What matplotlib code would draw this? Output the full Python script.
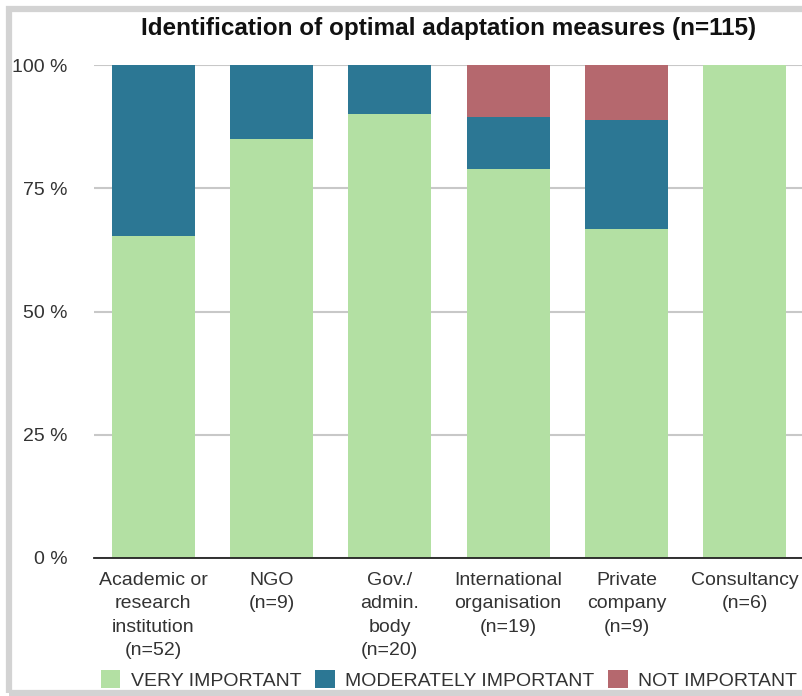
import matplotlib.pyplot as plt
import numpy as np
from matplotlib.patches import Rectangle

plt.rcParams["font.family"] = ["Liberation Sans", "DejaVu Sans"]

categories = [
    "Academic or\nresearch\ninstitution\n(n=52)",
    "NGO\n(n=9)",
    "Gov./\nadmin.\nbody\n(n=20)",
    "International\norganisation\n(n=19)",
    "Private\ncompany\n(n=9)",
    "Consultancy\n(n=6)",
]
very_important = np.array([65.4, 85.0, 90.0, 78.9, 66.7, 100.0])
moderately_important = np.array([34.6, 15.0, 10.0, 10.5, 22.2, 0.0])
not_important = np.array([0.0, 0.0, 0.0, 10.6, 11.1, 0.0])
yticks = [0, 25, 50, 75, 100]

green = "#b3e0a3"
blue = "#2c7794"
red = "#b5686e"

fig = plt.figure(figsize=(8.02, 6.96), dpi=100)
ax = fig.add_axes([94 / 802, 1 - 558 / 696, 710 / 802, 493 / 696])

x = np.arange(len(categories))
w = 0.70
ax.bar(x, very_important, w, color=green, label="VERY IMPORTANT", zorder=2)
ax.bar(x, moderately_important, w, bottom=very_important, color=blue,
       label="MODERATELY IMPORTANT", zorder=2)
ax.bar(x, not_important, w, bottom=very_important + moderately_important,
       color=red, label="NOT IMPORTANT", zorder=2)

ax.set_xlim(-0.5, 5.5)
ax.set_ylim(0, 100)
ax.set_yticks(yticks)
ax.set_yticklabels([f"{v} %" for v in yticks], fontsize=14, color="#333333")
ax.set_xticks(x)
ax.set_xticklabels(categories, fontsize=14, color="#333333", linespacing=1.5)
ax.tick_params(axis="y", length=0, pad=19)
ax.tick_params(axis="x", length=0, pad=10)
ax.grid(axis="y", color="#c8c8c8", linewidth=1.5, zorder=0)
for s in ["top", "right", "left"]:
    ax.spines[s].set_visible(False)
ax.spines["bottom"].set_color("#222222")
ax.spines["bottom"].set_linewidth(1.3)
ax.spines["bottom"].set_zorder(3)

fig.text(449 / 802, 1 - 29 / 696, "Identification of optimal adaptation measures (n=115)",
         ha="center", va="center", fontsize=17.5, fontweight="bold", color="#111111")

fig.legend(loc="center", bbox_to_anchor=(449 / 802, 1 - 680 / 696), ncol=3,
           frameon=False, fontsize=14, handlelength=1.0, handleheight=1.0,
           handletextpad=0.55, columnspacing=0.7, labelcolor="#333333")

border = Rectangle((9 / 802, 3 / 696), 1.2, 684 / 696, transform=fig.transFigure,
                   fill=False, edgecolor="#d3d3d3", linewidth=4.5)
fig.add_artist(border)

fig.savefig("out.png", dpi=100, facecolor="white")
